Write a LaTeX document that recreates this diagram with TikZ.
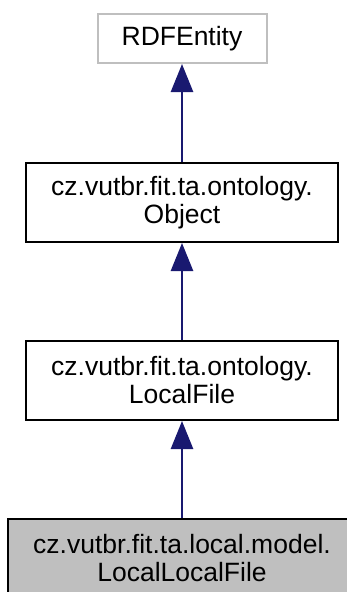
\documentclass[tikz,border=0pt]{standalone}
\usepackage{fontspec}
\setmainfont{Liberation Sans}
\usetikzlibrary{arrows.meta}

\begin{document}
\begin{tikzpicture}[x=1pt,y=1pt,
    klasse/.style={draw=black, line width=2pt, rectangle, align=center,
        inner sep=0pt, font=\fontsize{26.5}{28}\selectfont},
    erbt/.style={draw={rgb,255:red,25;green,25;blue,112}, line width=2.6pt,
        -{Triangle[width=22pt,length=28pt]}}]
    \useasboundingbox (0,0) rectangle (347,-592);
    % Klassen:
    \node[klasse, draw={rgb,255:red,191;green,191;blue,191},
        minimum width=169pt, minimum height=49pt]
        (rdf) at (182,-38.5) {RDFEntity};
    \node[klasse, minimum width=312pt, minimum height=79pt]
        (obj) at (182,-202.5) {cz.vutbr.fit.ta.ontology.\\Object};
    \node[klasse, minimum width=312pt, minimum height=79pt]
        (lf) at (182,-380.5) {cz.vutbr.fit.ta.ontology.\\LocalFile};
    \node[klasse, fill={rgb,255:red,191;green,191;blue,191},
        minimum width=348pt, minimum height=78pt]
        (llf) at (182,-558) {cz.vutbr.fit.ta.local.model.\\LocalLocalFile};
    % Vererbung:
    \draw[erbt] (obj.north) -- (rdf.south);
    \draw[erbt] (lf.north) -- (obj.south);
    \draw[erbt] (llf.north) -- (lf.south);
\end{tikzpicture}
\end{document}
